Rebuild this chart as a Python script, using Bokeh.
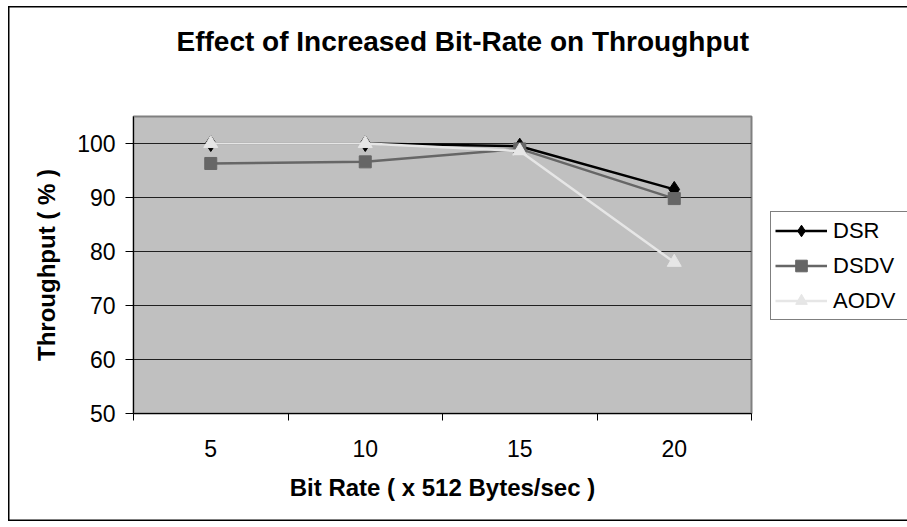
from bokeh.plotting import figure
from bokeh.models import (FixedTicker, Legend, LegendItem, Range1d, Title)
from bokeh.embed import file_html
from bokeh.resources import INLINE

# ---- data ----
bit_rates = ["5", "10", "15", "20"]
dsr = [100.0, 100.0, 99.5, 91.5]
dsdv = [96.3, 96.6, 99.0, 89.8]
aodv = [100.0, 100.0, 98.6, 78.0]
y_ticks = [50, 60, 70, 80, 90, 100]
title_text = "Effect of Increased Bit-Rate on Throughput"
x_title = "Bit Rate ( x 512 Bytes/sec )"
y_title = "Throughput ( % )"

FONT = "Liberation Sans"
xs = [i + 1 for i in range(len(bit_rates))]

p = figure(frame_width=618, frame_height=297,
           min_border_left=133, min_border_right=156,
           min_border_top=116, min_border_bottom=114,
           x_range=Range1d(0.5, len(bit_rates) + 0.5), y_range=Range1d(50, 105),
           output_backend="svg", toolbar_location=None, tools="")

p.background_fill_color = "#C0C0C0"
p.border_fill_color = None
p.outline_line_color = "#808080"
p.outline_line_width = 2
p.styles = {"background-color": "white",
            "box-shadow": ("inset 8px 6px 0 0 white, inset 0 -6px 0 0 white, "
                           "inset 9.5px 7.5px 0 0 black, inset 0 -7.5px 0 0 black")}

# default title kept empty and tiny
p.title.text = ""
p.title.text_font_size = "1px"
p.title.standoff = 0

# spacer between frame and title, then the visible title
p.add_layout(Title(text=" ", text_font_size="1px", standoff=52), "above")
p.add_layout(Title(text=title_text, align="left", offset=43, standoff=10,
                   text_font=FONT, text_font_size="28px", text_font_style="bold",
                   text_color="black"), "above")

# grid
p.xgrid.grid_line_color = None
p.ygrid.ticker = FixedTicker(ticks=y_ticks)
p.ygrid.grid_line_color = "#202020"
p.ygrid.grid_line_width = 1

# y axis
p.yaxis.ticker = FixedTicker(ticks=y_ticks)
p.yaxis.axis_line_color = "#000000"
p.yaxis.axis_line_width = 1
p.yaxis.major_tick_out = 8
p.yaxis.major_tick_in = 0
p.yaxis.minor_tick_line_color = None
p.yaxis.major_label_text_font = FONT
p.yaxis.major_label_text_font_size = "23px"
p.yaxis.major_label_text_color = "black"
p.yaxis.major_label_standoff = 10
p.yaxis.axis_label = y_title
p.yaxis.axis_label_text_font = FONT
p.yaxis.axis_label_text_font_size = "24px"
p.yaxis.axis_label_text_font_style = "bold"
p.yaxis.axis_label_text_color = "black"
p.yaxis.axis_label_standoff = 14

# x axis
p.xaxis.ticker = FixedTicker(ticks=xs, minor_ticks=[i + 0.5 for i in range(len(bit_rates) + 1)])
p.xaxis.major_label_overrides = {x: lab for x, lab in zip(xs, bit_rates)}
p.xaxis.axis_line_color = "#000000"
p.xaxis.axis_line_width = 1
p.xaxis.major_tick_out = 0
p.xaxis.major_tick_in = 0
p.xaxis.minor_tick_out = 7
p.xaxis.minor_tick_in = 0
p.xaxis.minor_tick_line_color = "black"
p.xaxis.major_label_text_font = FONT
p.xaxis.major_label_text_font_size = "23px"
p.xaxis.major_label_text_color = "black"
p.xaxis.major_label_standoff = 19
p.xaxis.axis_label = x_title
p.xaxis.axis_label_text_font = FONT
p.xaxis.axis_label_text_font_size = "24px"
p.xaxis.axis_label_text_font_style = "bold"
p.xaxis.axis_label_text_color = "black"
p.xaxis.axis_label_standoff = 14

# series
l1 = p.line(xs, dsr, line_color="black", line_width=2.5)
m1 = p.scatter(xs, dsr, marker="diamond", size=16, fill_color="black", line_color="black")
l2 = p.line(xs, dsdv, line_color="#666666", line_width=2.5)
m2 = p.scatter(xs, dsdv, marker="square", size=12, fill_color="#666666", line_color="#666666")
l3 = p.line(xs, aodv, line_color="#E6E6E6", line_width=2.5)
m3 = p.scatter(xs, aodv, marker="triangle", size=14, fill_color="#E6E6E6", line_color="#E6E6E6")

legend = Legend(items=[LegendItem(label="DSR", renderers=[l1, m1]),
                       LegendItem(label="DSDV", renderers=[l2, m2]),
                       LegendItem(label="AODV", renderers=[l3, m3])],
                location=(19, 93), orientation="vertical",
                glyph_width=52, glyph_height=29, label_height=29, label_width=80,
                label_standoff=6, spacing=6, padding=4, margin=0,
                label_text_font=FONT, label_text_font_size="22px",
                label_text_color="black",
                border_line_color="black", border_line_width=1,
                background_fill_color="white", background_fill_alpha=1.0)
p.add_layout(legend, "right")

open("out.html", "w").write(file_html(p, INLINE))
